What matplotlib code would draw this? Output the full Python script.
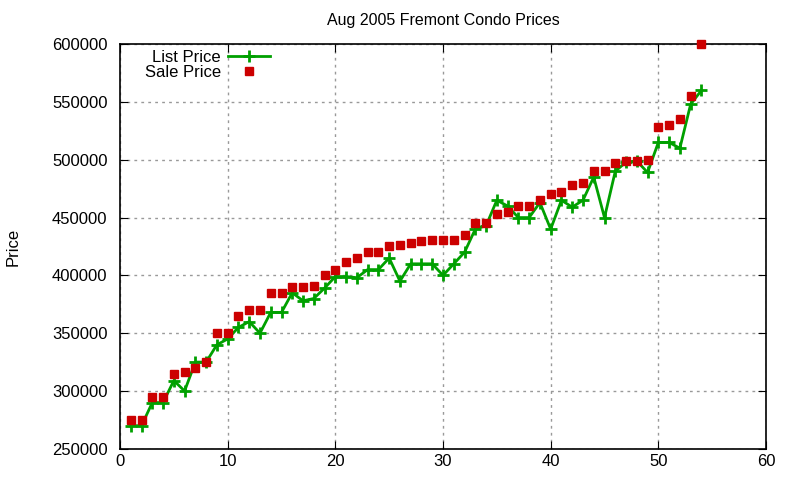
import matplotlib.pyplot as plt
import numpy as np

plt.rcParams['font.family'] = ['Liberation Sans', 'DejaVu Sans']

# sale number, list price and sale price
idx = np.arange(1, 55)
list_price = [270000, 270000, 290000, 290000, 309000, 300000, 325000, 325000, 340000, 345000,
              355000, 360000, 350000, 368000, 368000, 385000, 378000, 380000, 389000, 399000,
              399000, 398000, 405000, 405000, 415000, 395000, 410000, 410000, 410000, 400000,
              410000, 420000, 440000, 443000, 465000, 460000, 450000, 450000, 463000, 440000,
              465000, 459000, 465000, 485000, 450000, 490000, 498000, 499000, 489000, 515000,
              515000, 510000, 548000, 560000]
sale_price = [275000, 275000, 295000, 295000, 315000, 316000, 320000, 325000, 350000, 350000,
              365000, 370000, 370000, 385000, 385000, 390000, 390000, 391000, 400000, 405000,
              412000, 415000, 420000, 420000, 425000, 426000, 428000, 430000, 431000, 431000,
              431000, 435000, 445000, 445000, 453000, 455000, 460000, 460000, 465000, 470000,
              472000, 478000, 480000, 490000, 490000, 497000, 499000, 499000, 500000, 528000,
              530000, 535000, 555000, 600000]

fig = plt.figure(figsize=(8, 4.8), dpi=100)
ax = fig.add_axes([0.15, 0.065, 0.8075, 0.843])

ax.plot(idx, list_price, color='#00a000', lw=2, marker='+', ms=9, mew=2, label='List Price')
ax.plot(idx, sale_price, ls='none', color='#cc0000', marker='s', ms=6, label='Sale Price',
        clip_on=False, zorder=5)

ax.set_xlim(0, 60)
ax.set_ylim(250000, 600000)
ax.set_xticks(range(0, 61, 10))
ax.set_yticks(range(250000, 600001, 50000))
ax.ticklabel_format(style='plain', axis='y')
ax.tick_params(direction='in', top=True, right=True, labelsize=12, length=6)
ax.tick_params(axis='y', pad=9)
ax.grid(True, ls=(0, (2, 3)), color='#999999', lw=1)
for s in ax.spines.values():
    s.set_linewidth(1.2)

ax.set_title('Aug 2005 Fremont Condo Prices', fontsize=11.5, pad=14)
fig.text(0.016, 0.4865, 'Price', rotation=90, ha='center', va='center', fontsize=12)

ax.legend(loc='upper left', bbox_to_anchor=(0.02, 1.015), frameon=False, markerfirst=False,
          fontsize=12, handlelength=2.5, handletextpad=0.45, labelspacing=0.0,
          borderaxespad=0.3)

plt.savefig('out.png', dpi=100)
